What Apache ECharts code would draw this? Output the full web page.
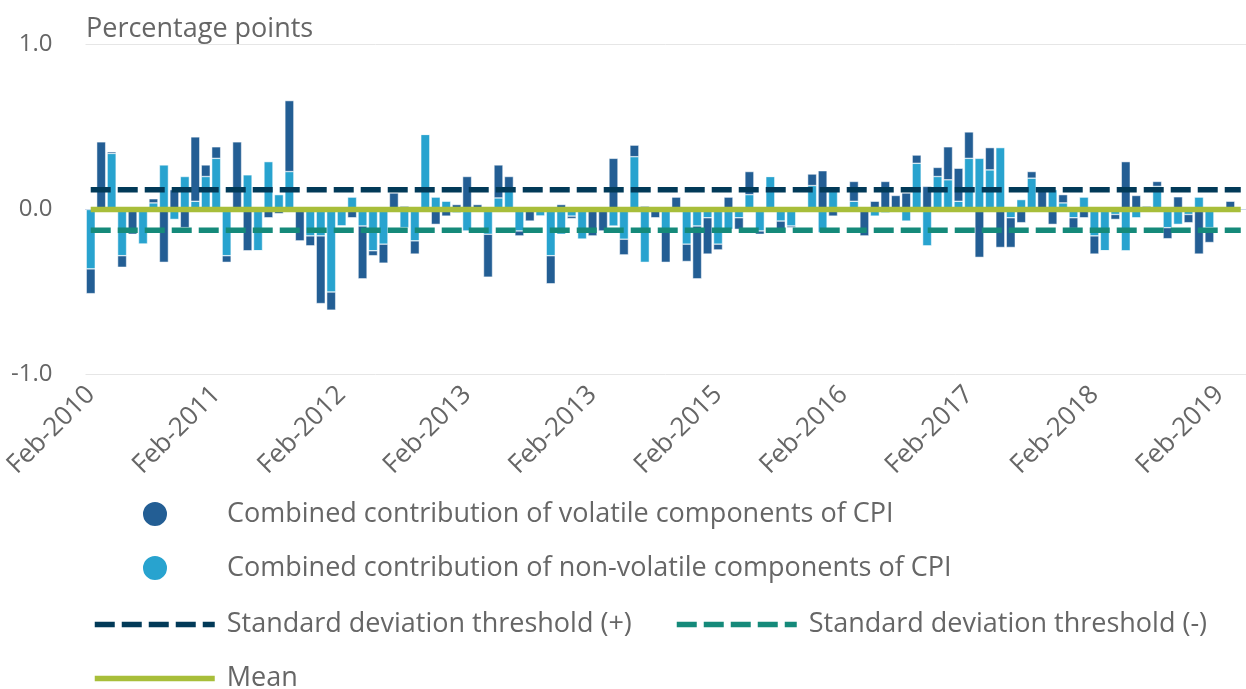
<!DOCTYPE html>
<html>
<head>
<meta charset="utf-8">
<title>CPI contributions</title>
<script src="https://cdn.jsdelivr.net/npm/echarts@6/dist/echarts.min.js"></script>
<style>
  html, body { margin: 0; padding: 0; background: #fff; }
  #main { width: 1246px; height: 689px; }
</style>
</head>
<body>
<div id="main"></div>
<script>
// monthly categories, Feb-2010 .. Apr-2019
var monthNames = ['Jan', 'Feb', 'Mar', 'Apr', 'May', 'Jun', 'Jul', 'Aug', 'Sep', 'Oct', 'Nov', 'Dec'];
var months = [];
for (var y = 2010; y <= 2019; y++) {
  for (var m = 0; m < 12; m++) {
    if (y == 2010 && m < 1) continue;
    if (y == 2019 && m > 3) break;
    months.push(monthNames[m] + '-' + y);
  }
}

// labels shown under the ticks (one every 12 months, as printed on the original)
var tickLabels = ['Feb-2010', 'Feb-2011', 'Feb-2012', 'Feb-2013', 'Feb-2013',
  'Feb-2015', 'Feb-2016', 'Feb-2017', 'Feb-2018', 'Feb-2019'];

// combined contribution of volatile components (dark)
var volatile = [
  -0.15, 0.41, 0.01, -0.07, -0.15, 0, 0.025, -0.32, 0.12, -0.11, 0.39, 0.07,
  0.07, -0.04, 0.41, -0.25, 0, -0.05, -0.025, 0.43, -0.19, -0.06, -0.41, -0.11,
  0, -0.05, -0.32, -0.03, -0.115, 0.1, 0.02, -0.08, 0, -0.09, -0.04, 0.03,
  0.2, 0.03, -0.26, 0.2, 0.08, -0.03, -0.07, 0, -0.17, 0.03, -0.015, 0,
  -0.16, -0.12, 0.31, -0.095, 0.07, 0.02, -0.05, -0.2, 0.075, -0.105, -0.32, -0.22,
  -0.035, 0.075, -0.07, 0.14, -0.02, 0, -0.06, -0.01, 0, 0.07, 0.235, -0.04,
  0, 0.12, -0.16, 0.05, 0.17, 0.085, 0.1, 0.05, 0.14, 0.055, 0.2, 0.2,
  0.16, -0.29, 0.135, -0.23, -0.18, -0.08, 0.04, 0.12, -0.09, 0.05, -0.065, -0.05,
  -0.11, 0, -0.03, 0.29, 0.085, 0.02, 0.03, -0.067, 0.077, -0.05, -0.27, -0.09,
  0, 0.05, null
];

// combined contribution of non-volatile components (light)
var nonVolatile = [
  -0.36, 0, 0.34, -0.28, 0, -0.21, 0.04, 0.27, -0.06, 0.2, 0.05, 0.2,
  0.31, -0.28, 0, 0.21, -0.25, 0.29, 0.09, 0.23, 0, -0.16, -0.16, -0.5,
  -0.1, 0.075, -0.1, -0.25, -0.21, 0, -0.11, -0.19, 0.455, 0.075, 0.05, -0.02,
  -0.13, 0, -0.15, 0.07, 0.12, -0.13, 0, -0.04, -0.28, -0.15, -0.04, -0.18,
  0, -0.01, -0.1, -0.18, 0.32, -0.32, 0, -0.12, 0, -0.21, -0.1, -0.05,
  -0.21, -0.12, -0.05, 0.09, -0.13, 0.2, -0.07, -0.1, 0.01, 0.145, -0.14, 0.12,
  0.01, 0.05, 0, -0.04, -0.02, 0, -0.07, 0.28, -0.22, 0.2, 0.18, 0.05,
  0.31, 0.31, 0.24, 0.375, -0.05, 0.06, 0.19, 0, 0.12, 0.04, -0.05, 0.075,
  -0.16, -0.25, -0.03, -0.25, -0.05, 0, 0.14, -0.11, -0.09, -0.03, 0.075, -0.11,
  0, 0, null
];

var sdPlus = 0.12;
var sdMinus = -0.125;
var mean = 0;

var nameVol = 'Combined contribution of volatile components of CPI';
var nameNon = 'Combined contribution of non-volatile components of CPI';
var namePlus = 'Standard deviation threshold (+)';
var nameMinus = 'Standard deviation threshold (-)';
var nameMean = 'Mean';

var last = months.length - 1;
var font = '"Open Sans", sans-serif';

function legendBox(name, left, top, icon) {
  var l = {
    data: [name], left: left, top: top, padding: 0,
    itemWidth: 120, itemHeight: 26, selectedMode: false,
    textStyle: { fontFamily: font, fontSize: 27, color: '#666', padding: [8, 0, 0, 7] }
  };
  if (icon) {
    l.icon = icon;
  } else {
    // line entries: no marker, full width stroke
    l.itemStyle = { opacity: 0 };
    l.lineStyle = { width: 5.5 };
  }
  return l;
}

var chart = echarts.init(document.getElementById('main'));
chart.setOption({
  animation: false,
  title: {
    text: 'Percentage points', left: 81, top: 11,
    textStyle: { fontFamily: font, fontSize: 27, fontWeight: 'normal', color: '#666' }
  },
  grid: { left: 85.5, right: -8.3, top: 44.5, bottom: 314.5 },
  legend: [
    legendBox(nameVol, 141, 500, 'circle'),
    legendBox(nameNon, 141, 554, 'circle'),
    legendBox(namePlus, 92, 611),
    legendBox(nameMinus, 674, 611),
    legendBox(nameMean, 92, 665)
  ],
  xAxis: {
    type: 'category',
    data: months,
    axisLine: { lineStyle: { color: '#ccd6eb', width: 1 } },
    axisTick: { alignWithLabel: true, interval: 11, length: 10, lineStyle: { color: '#ccd6eb' } },
    axisLabel: {
      interval: 11, rotate: 45, margin: 16,
      fontFamily: font, fontSize: 26, color: '#666',
      formatter: function (v, i) { return tickLabels[i / 12]; }
    }
  },
  yAxis: {
    type: 'value', min: -1, max: 1, interval: 1,
    axisLine: { show: false },
    axisTick: { show: false },
    splitLine: { lineStyle: { color: '#e6e6e6', width: 1 } },
    axisLabel: {
      margin: 33, fontFamily: font, fontSize: 24, color: '#666',
      padding: [4, 0, 0, 0],
      formatter: function (v) { return v.toFixed(1); }
    }
  },
  series: [
    {
      name: nameNon, type: 'bar', stack: 'cpi', data: nonVolatile,
      barCategoryGap: '14%',
      itemStyle: { color: '#28a3cf', borderColor: '#fff', borderWidth: 0.5 }
    },
    {
      name: nameVol, type: 'bar', stack: 'cpi', data: volatile,
      itemStyle: { color: '#235e94', borderColor: '#fff', borderWidth: 0.5 }
    },
    {
      name: namePlus, type: 'line', symbol: 'none', z: 3,
      data: [[0, sdPlus], [last, sdPlus]],
      lineStyle: { color: '#023a58', width: 5.5, type: [20, 7] }
    },
    {
      name: nameMinus, type: 'line', symbol: 'none', z: 3,
      data: [[0, sdMinus], [last, sdMinus]],
      lineStyle: { color: '#158a7a', width: 5.5, type: [20, 7] }
    },
    {
      name: nameMean, type: 'line', symbol: 'none', z: 4,
      data: [[0, mean], [last, mean]],
      lineStyle: { color: '#a8be3a', width: 5.5 }
    }
  ]
});
</script>
</body>
</html>
